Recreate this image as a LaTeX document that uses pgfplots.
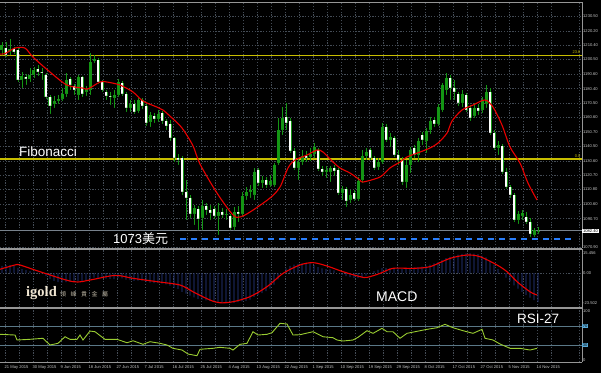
\documentclass[border=0pt]{standalone}
\usepackage{fontspec}
\setmainfont{Liberation Sans}
\newfontfamily\cjksc{Noto Sans CJK SC}
\newfontfamily\cjktc{Noto Sans CJK TC}
\newfontfamily\igoldfont{Liberation Serif}
\usepackage{pgfplots}
\usepackage{pgfplotstable}
\pgfplotsset{compat=1.18}
\definecolor{gridc}{RGB}{68,76,86}
\definecolor{bordc}{RGB}{150,150,150}
\definecolor{tickc}{RGB}{200,200,200}
\definecolor{cg}{RGB}{20,150,20}
\definecolor{fibc}{RGB}{200,190,0}
\definecolor{mared}{RGB}{235,0,0}
\definecolor{macdc}{RGB}{45,65,150}
\definecolor{rsic}{RGB}{154,205,50}
\definecolor{levelc}{RGB}{90,120,135}
\definecolor{levelbox}{RGB}{90,170,215}
\definecolor{dashc}{RGB}{40,125,250}
\definecolor{bidc}{RGB}{120,130,140}
\definecolor{cream}{RGB}{240,230,210}
\definecolor{creamg}{RGB}{185,178,160}

\pgfplotstableread{
i o h l c
0 1207.0 1212.5 1203.6 1210.5
2 1205.7 1214.6 1203.6 1207.7
5 1186.4 1191.9 1180.8 1189.1
7 1187.1 1194.6 1185.0 1189.8
8 1189.8 1195.3 1187.7 1193.3
13 1169.8 1175.3 1167.1 1171.9
14 1171.9 1176.0 1169.8 1173.3
15 1173.3 1180.8 1171.9 1176.7
16 1176.7 1191.2 1174.6 1186.4
19 1176.0 1189.8 1172.6 1188.4
21 1178.1 1182.2 1175.3 1180.2
22 1179.5 1205.0 1176.0 1198.8
23 1199.5 1203.6 1198.1 1200.8
28 1174.0 1179.5 1167.1 1176.0
29 1176.0 1187.1 1174.6 1185.0
32 1167.1 1172.6 1164.3 1169.8
34 1165.0 1174.0 1163.6 1172.6
37 1157.4 1164.3 1153.9 1162.2
39 1159.5 1165.7 1157.4 1162.9
48 1093.9 1100.2 1086.4 1098.1
50 1091.2 1103.6 1082.9 1099.5
54 1092.6 1101.5 1079.5 1095.3
56 1093.3 1097.4 1089.8 1093.9
58 1085.0 1098.8 1082.9 1095.3
60 1093.9 1109.1 1091.9 1106.4
61 1106.4 1112.6 1103.6 1109.1
62 1109.1 1113.9 1105.0 1110.5
63 1107.0 1125.7 1103.6 1122.9
65 1115.3 1120.2 1111.9 1117.4
67 1113.9 1120.8 1112.6 1116.7
68 1113.9 1129.1 1112.6 1127.7
69 1129.1 1160.2 1127.7 1151.9
70 1151.9 1167.7 1148.4 1160.2
74 1125.7 1132.6 1117.4 1129.8
75 1129.8 1138.1 1127.7 1133.9
77 1133.3 1139.5 1130.5 1135.3
78 1135.3 1142.9 1132.6 1140.2
81 1122.9 1127.1 1118.8 1124.3
82 1122.9 1127.1 1116.0 1125.7
85 1108.4 1113.3 1103.6 1111.2
87 1103.6 1110.5 1101.5 1107.0
89 1104.3 1119.5 1102.9 1116.7
90 1117.4 1138.1 1115.3 1133.9
91 1133.9 1139.5 1131.2 1136.7
94 1126.4 1132.6 1124.3 1129.8
95 1129.8 1156.7 1128.4 1153.9
97 1145.0 1149.8 1140.2 1147.0
101 1116.0 1131.2 1111.9 1127.7
102 1127.7 1140.2 1122.2 1138.1
104 1134.6 1146.4 1129.8 1144.3
106 1144.3 1153.3 1136.0 1151.2
107 1151.9 1160.8 1149.1 1158.1
109 1156.0 1169.8 1154.6 1167.7
110 1165.7 1184.3 1164.3 1182.9
111 1179.5 1191.2 1176.0 1187.7
115 1170.5 1179.5 1167.7 1176.7
118 1161.5 1170.5 1160.2 1167.1
120 1165.7 1174.6 1163.6 1172.6
121 1169.8 1182.9 1167.1 1178.1
124 1139.5 1144.3 1134.6 1141.5
129 1089.8 1096.0 1087.1 1093.9
130 1092.6 1096.7 1089.8 1094.6
133 1079.5 1084.3 1078.1 1082.9
134 1082.0 1085.0 1080.1 1082.4
}\bull

\pgfplotstableread{
i o h l c
1 1208.4 1212.5 1202.2 1203.6
3 1207.7 1209.1 1204.3 1205.7
4 1207.0 1209.1 1185.0 1186.4
6 1188.4 1190.5 1182.9 1187.1
9 1193.9 1196.7 1189.1 1191.9
10 1191.9 1194.6 1186.4 1191.2
11 1189.8 1191.2 1173.3 1174.6
12 1174.6 1176.0 1162.9 1168.4
17 1187.1 1188.4 1179.5 1182.9
18 1182.2 1183.6 1176.0 1179.5
20 1188.4 1189.1 1174.6 1176.7
24 1200.2 1201.5 1183.6 1185.0
25 1185.0 1186.4 1178.1 1179.5
26 1178.1 1179.5 1172.6 1175.3
27 1175.3 1178.1 1169.1 1174.6
30 1184.3 1185.7 1175.3 1176.7
31 1176.7 1178.1 1164.3 1167.1
33 1169.8 1172.6 1162.9 1164.3
35 1172.6 1174.0 1166.4 1168.4
36 1168.4 1169.8 1154.6 1156.7
38 1161.5 1163.6 1156.7 1159.5
40 1163.6 1165.0 1156.0 1158.1
41 1158.1 1159.5 1151.9 1154.6
42 1156.0 1158.8 1144.3 1146.4
43 1146.4 1147.0 1129.8 1132.6
44 1132.6 1135.3 1127.7 1131.2
45 1132.6 1133.9 1107.0 1109.1
46 1109.1 1117.4 1089.8 1105.0
47 1105.0 1107.0 1091.2 1093.9
49 1097.4 1099.5 1082.9 1090.5
51 1099.5 1101.5 1093.3 1096.7
52 1096.7 1100.2 1089.8 1094.6
53 1097.4 1099.5 1090.5 1092.6
55 1095.3 1098.1 1091.2 1093.3
57 1092.6 1093.9 1082.9 1084.3
59 1095.3 1099.5 1088.4 1093.9
64 1124.3 1125.7 1113.3 1115.3
66 1117.4 1119.5 1111.9 1113.9
71 1160.8 1170.5 1151.9 1156.7
72 1158.1 1160.2 1136.0 1137.4
73 1137.4 1139.5 1124.3 1125.7
76 1133.9 1137.4 1129.8 1132.6
79 1138.1 1139.5 1123.6 1125.0
80 1125.0 1127.1 1120.2 1122.9
83 1125.7 1127.7 1120.2 1123.6
84 1124.3 1125.7 1107.0 1108.4
86 1111.2 1112.6 1098.8 1102.9
88 1108.4 1110.5 1102.9 1104.3
92 1138.1 1139.5 1131.2 1132.6
93 1132.6 1133.9 1124.3 1125.7
96 1153.9 1156.0 1143.6 1145.0
98 1146.4 1147.7 1133.3 1134.6
99 1134.6 1138.1 1127.7 1131.2
100 1131.2 1133.3 1113.9 1116.0
103 1139.5 1141.5 1132.6 1134.6
105 1148.4 1150.5 1141.5 1145.0
108 1158.8 1160.8 1153.9 1156.0
112 1187.7 1189.8 1172.6 1180.8
113 1180.8 1186.4 1172.6 1178.1
114 1176.7 1178.1 1168.4 1170.5
116 1176.0 1177.4 1164.3 1165.7
117 1167.1 1169.1 1158.1 1160.2
119 1167.1 1169.8 1162.2 1165.0
122 1178.1 1180.8 1148.4 1149.8
123 1149.8 1151.9 1138.1 1139.5
125 1140.8 1142.2 1121.5 1122.9
126 1122.9 1125.7 1111.2 1112.6
127 1112.6 1113.9 1105.0 1107.0
128 1107.0 1108.4 1088.4 1089.8
131 1091.9 1095.3 1087.1 1088.4
132 1088.4 1091.2 1078.1 1080.1
}\bear

\pgfplotstableread{
i p
-0.5 1204.3
0.75 1204.6
3.25 1208.4
5.75 1208.4
7.75 1202.2
12 1191.9
16.25 1182.9
20.25 1180.8
21.5 1180.2
24.5 1185.0
26.25 1185.0
29.5 1182.9
32.75 1178.1
35.25 1171.9
38.75 1167.7
40.25 1165.7
42.5 1160.2
45 1153.3
47.75 1141.0
49.5 1128.4
53.75 1108.4
57.75 1093.3
59.5 1091.9
62 1095.3
67 1105.0
69.5 1112.6
71.5 1125.7
73.25 1131.2
76.25 1134.6
78.75 1138.1
80.25 1136.7
82.75 1129.8
84.5 1125.7
87 1122.2
89.5 1117.4
90.25 1116.0
94.5 1119.5
97 1125.7
99.5 1129.8
101.25 1133.3
104.5 1136.7
107 1139.5
109 1142.9
111.25 1149.8
112.5 1158.1
115 1165.7
117.75 1169.1
120.75 1172.6
122.75 1167.7
125 1155.3
127 1140.2
129.5 1129.1
131.5 1115.3
133.75 1103.6
}\ma

\pgfplotstableread{
i v
0 5.5
1 6.0
2 6.0
3 5.5
4 4.0
5 3.0
6 2.2
7 1.5
8 1.0
9 0.3
10 -0.5
11 -2.5
12 -4.5
13 -6.0
14 -7.0
15 -7.5
16 -7.0
17 -6.8
18 -6.5
19 -6.0
20 -6.2
21 -6.0
22 -4.5
23 -3.5
24 -3.8
25 -4.0
26 -4.3
27 -4.6
28 -4.8
29 -4.0
30 -4.2
31 -5.2
32 -5.5
33 -6.0
34 -5.8
35 -5.8
36 -7.0
37 -7.5
38 -7.8
39 -7.8
40 -8.2
41 -8.8
42 -9.8
43 -11.5
44 -12.2
45 -14.5
46 -16.0
47 -17.5
48 -18.8
49 -20.0
50 -20.5
51 -21.2
52 -21.8
53 -22.5
54 -22.8
55 -23.2
56 -23.502
57 -23.3
58 -23.0
59 -22.5
60 -22.0
61 -21.5
62 -20.5
63 -18.5
64 -17.0
65 -15.5
66 -14.0
67 -12.0
68 -9.0
69 -5.0
70 -0.5
71 3.5
72 5.5
73 6.5
74 7.0
75 7.5
76 7.8
77 7.5
78 6.0
79 4.5
80 3.5
81 3.0
82 2.8
83 2.0
84 0.0
85 -1.5
86 -2.5
87 -3.2
88 -3.8
89 -4.0
90 -3.5
91 -2.0
92 -0.5
93 1.5
94 2.5
95 3.8
96 4.0
97 3.8
98 3.5
99 3.5
100 3.2
101 3.5
102 4.0
103 4.2
104 4.5
105 5.0
106 5.5
107 6.5
108 7.5
109 8.5
110 10.0
111 11.5
112 12.5
113 13.5
114 14.2
115 14.8
116 15.2
117 15.456
118 15.0
119 14.5
120 13.5
121 12.0
122 9.5
123 6.5
124 3.0
125 -0.5
126 -3.5
127 -6.5
128 -9.5
129 -12.0
130 -14.5
131 -17.0
132 -19.0
133 -21.0
134 -22.5
}\macd

\pgfplotstableread{
i v
-0.5 2.9
3.25 6.2
4.5 6.2
9.5 1.0
17.75 -6.7
22 -5.4
27 -2.3
29.5 -2.1
32.75 -4.1
38.75 -6.7
44.5 -9.3
47.75 -14.5
52 -20.9
54.5 -23.0
57.75 -22.2
62 -18.3
66.25 -10.6
70.25 -0.3
74.5 6.2
77.75 8.0
81.25 5.4
85.25 1.0
89.5 -2.8
91.25 -3.4
94.5 -0.3
97.75 3.6
102.75 3.6
107 4.9
112 11.3
116.25 13.9
119.5 12.6
123.75 6.2
126.25 1.0
128.75 -6.7
132 -14.5
133.75 -17.0
}\signal

\pgfplotstableread{
i v
-0.5 52.8
3.25 51.3
3.75 41.1
7 42.5
10.25 44.6
12 30.8
14 34.3
15.75 47.8
17 42.5
18.75 42.5
19.5 51.3
20.25 41.1
22 59.5
23.25 58.1
25.75 42.5
28.75 42.5
31.25 35.5
32.75 39.6
35.25 32.2
37 37.6
39.5 34.3
41.25 30.8
42.75 24.0
45 20.5
46.5 12.3
48.75 8.8
49.5 22.0
52.75 24.0
54.5 26.1
57 24.0
57.75 20.5
59.5 32.2
61.25 34.3
62.75 58.1
64 51.3
66.25 52.8
67.5 56.1
69.5 75.4
71.25 73.9
72.75 51.3
74.5 52.0
77.75 58.1
80.25 47.8
82.75 45.8
83.75 41.1
85.25 39.0
87.75 41.1
89 46.6
91.25 60.2
92.75 54.8
95 65.1
96.25 58.1
97.75 58.1
99.5 44.6
101.25 54.8
103.25 58.1
106.25 63.0
108.75 66.3
110.75 73.3
112.75 66.3
115.25 60.2
117.75 54.8
120 63.0
120.75 44.6
122.75 41.1
124.5 32.9
127 24.0
129.5 24.0
132 20.5
133.75 24.0
}\rsi

\pgfplotsset{
  mt4/.style={
    scale only axis, width=582pt, xmin=-0.5, xmax=145,
    axis x line*=box, axis y line*=right,
    axis line style={draw=bordc, line width=0.8pt},
    xtick={0.75,7.75,...,133.75},
    minor xtick={4.25,11.25,...,144.25},
    xmajorgrids, xminorgrids,
    major grid style={draw=gridc, dash pattern=on 1.2pt off 1.6pt, line width=0.5pt},
    minor grid style={draw=gridc, dash pattern=on 1.2pt off 1.6pt, line width=0.5pt},
    xticklabels={},
    major tick length=0pt, minor tick length=0pt,
    yticklabel style={font=\fontsize{4.1}{5}\selectfont, text=tickc, anchor=west, inner sep=1pt},
  },
  wick/.style={only marks, mark=*, mark size=0.1pt, mark options={draw=none,fill=none},
    error bars/.cd, y dir=plus, y explicit, error mark=none,
    error bar style={draw=cg, line width=0.9pt}},
  body/.style={only marks, mark=*, mark size=0.1pt, mark options={draw=none,fill=none},
    error bars/.cd, y dir=plus, y explicit, error mark=none,
    error bar style={draw=#1, line width=3pt}},
  bodyin/.style={only marks, mark=*, mark size=0.1pt, mark options={draw=none,fill=none},
    error bars/.cd, y dir=plus, y explicit, error mark=none,
    error bar style={draw=#1, line width=1.7pt}},
}

\begin{document}
\begin{tikzpicture}
\useasboundingbox (0,0) rectangle (601pt,373pt);
\fill[black] (0,0) rectangle (601pt,373pt);

% ---------- price panel ----------
\begin{axis}[mt4, at={(0pt,371pt)}, anchor=north west, height=246pt,
  ymin=1070.5, ymax=1240.2,
  ytick={1070.9,1090.7,1100.6,1110.8,1120.7,1130.6,1140.5,1150.7,1160.6,1170.5,1180.4,1190.6,1200.5,1210.4,1220.2,1230.5},
  yticklabels={1070.90,1090.70,1100.60,1110.80,1120.70,1130.60,1140.50,1150.70,1160.60,1170.50,1180.40,1190.60,1200.50,1210.40,1220.20,1230.50},
  ymajorgrids,
  extra y ticks={1082.4}, extra y tick labels={1082.40},
  extra y tick style={grid=none, yticklabel style={fill=white, text=black, inner sep=0.8pt}},
]
\addplot[fibc, line width=1.6pt] coordinates {(-0.5,1203.3) (145,1203.3)};
\addplot[fibc, line width=1.3pt] coordinates {(-0.5,1131.9) (145,1131.9)};
\addplot[bidc, line width=0.6pt] coordinates {(-0.5,1082.4) (145,1082.4)};
\addplot[draw=dashc, line width=2pt, dash pattern=on 6pt off 5pt] coordinates {(44.5,1076.4) (142.75,1076.4)};
\addplot[wick] table[x=i, y=l, y error plus expr=\thisrow{h}-\thisrow{l}] {\bull};
\addplot[wick] table[x=i, y=l, y error plus expr=\thisrow{h}-\thisrow{l}] {\bear};
\addplot[body=cg] table[x=i, y=o, y error plus expr=\thisrow{c}-\thisrow{o}] {\bull};
\addplot[body=cg] table[x=i, y=c, y error plus expr=\thisrow{o}-\thisrow{c}] {\bear};
\addplot[bodyin=white] table[x=i, y=c, y error plus expr=\thisrow{o}-\thisrow{c}] {\bear};
\addplot[mared, line width=1.1pt, smooth] table[x=i, y=p] {\ma};
\end{axis}

% ---------- MACD panel ----------
\begin{axis}[mt4, at={(0pt,124pt)}, anchor=north west, height=58.5pt,
  ymin=-26.66, ymax=18.55,
  ytick={0}, yticklabels={0.00}, ymajorgrids,
  extra y ticks={-23.502,15.456}, extra y tick labels={-23.502,15.456},
  extra y tick style={grid=none},
]
\addplot[ybar, bar width=0.9pt, fill=macdc, draw=none] table[x=i, y=v] {\macd};
\addplot[mared, line width=1.1pt, smooth] table[x=i, y=v] {\signal};
\end{axis}

% ---------- RSI panel ----------
\begin{axis}[mt4, at={(0pt,65pt)}, anchor=north west, height=54pt,
  ymin=-4.1, ymax=106.8,
  ytick={0,100}, yticklabels={0,100},
  extra y ticks={30,70}, extra y tick labels={30,70},
  extra y tick style={grid=none, yticklabel style={fill=levelbox, text=black, inner sep=0.6pt}},
  xticklabels={21 May 2015,30 May 2015,9 Jun 2015,18 Jun 2015,27 Jun 2015,7 Jul 2015,16 Jul 2015,25 Jul 2015,4 Aug 2015,13 Aug 2015,22 Aug 2015,1 Sep 2015,10 Sep 2015,19 Sep 2015,29 Sep 2015,8 Oct 2015,17 Oct 2015,27 Oct 2015,5 Nov 2015,14 Nov 2015},
  xticklabel style={font=\fontsize{4.1}{5}\selectfont, text=tickc, anchor=north west, inner sep=0pt, yshift=-3pt, xshift=-0.5pt},
]
\addplot[levelc, line width=0.7pt] coordinates {(-0.5,70) (145,70)};
\addplot[levelc, line width=0.7pt] coordinates {(-0.5,30) (145,30)};
\addplot[rsic, line width=0.9pt] table[x=i, y=v] {\rsi};
\end{axis}

% ---------- texts ----------
\node[anchor=south east, inner sep=0.5pt, text=fibc, font=\fontsize{4}{4}\selectfont] at (581pt,318.3pt) {23.6};
\node[anchor=south east, inner sep=0.5pt, text=fibc, font=\fontsize{4}{4}\selectfont] at (581pt,215pt) {0.0};
\node[anchor=base west, inner sep=0pt, text=white, font=\fontsize{13.5}{14}\selectfont] at (19pt,217pt) {Fibonacci};
\node[anchor=base west, inner sep=0pt, text=white, font=\fontsize{13}{14}\selectfont] at (113pt,129.5pt) {1073{\cjksc 美元}};
\node[anchor=base west, inner sep=0pt, text=white, font=\fontsize{14}{15}\selectfont] at (376pt,71.5pt) {MACD};
\node[anchor=base west, inner sep=0pt, text=white, font=\fontsize{13.5}{14}\selectfont] at (517pt,50pt) {RSI-27};
\node[anchor=base west, inner sep=0pt, text=cream, font=\igoldfont\bfseries\fontsize{14.5}{15}\selectfont] at (26pt,77pt) {igold};
\node[anchor=base west, inner sep=0pt, text=creamg, font=\cjktc\fontsize{6}{6}\selectfont] at (60pt,76.5pt) {領\hspace{4.5pt}峰\hspace{4.5pt}貴\hspace{4.5pt}金\hspace{4.5pt}屬};
\end{tikzpicture}
\end{document}
